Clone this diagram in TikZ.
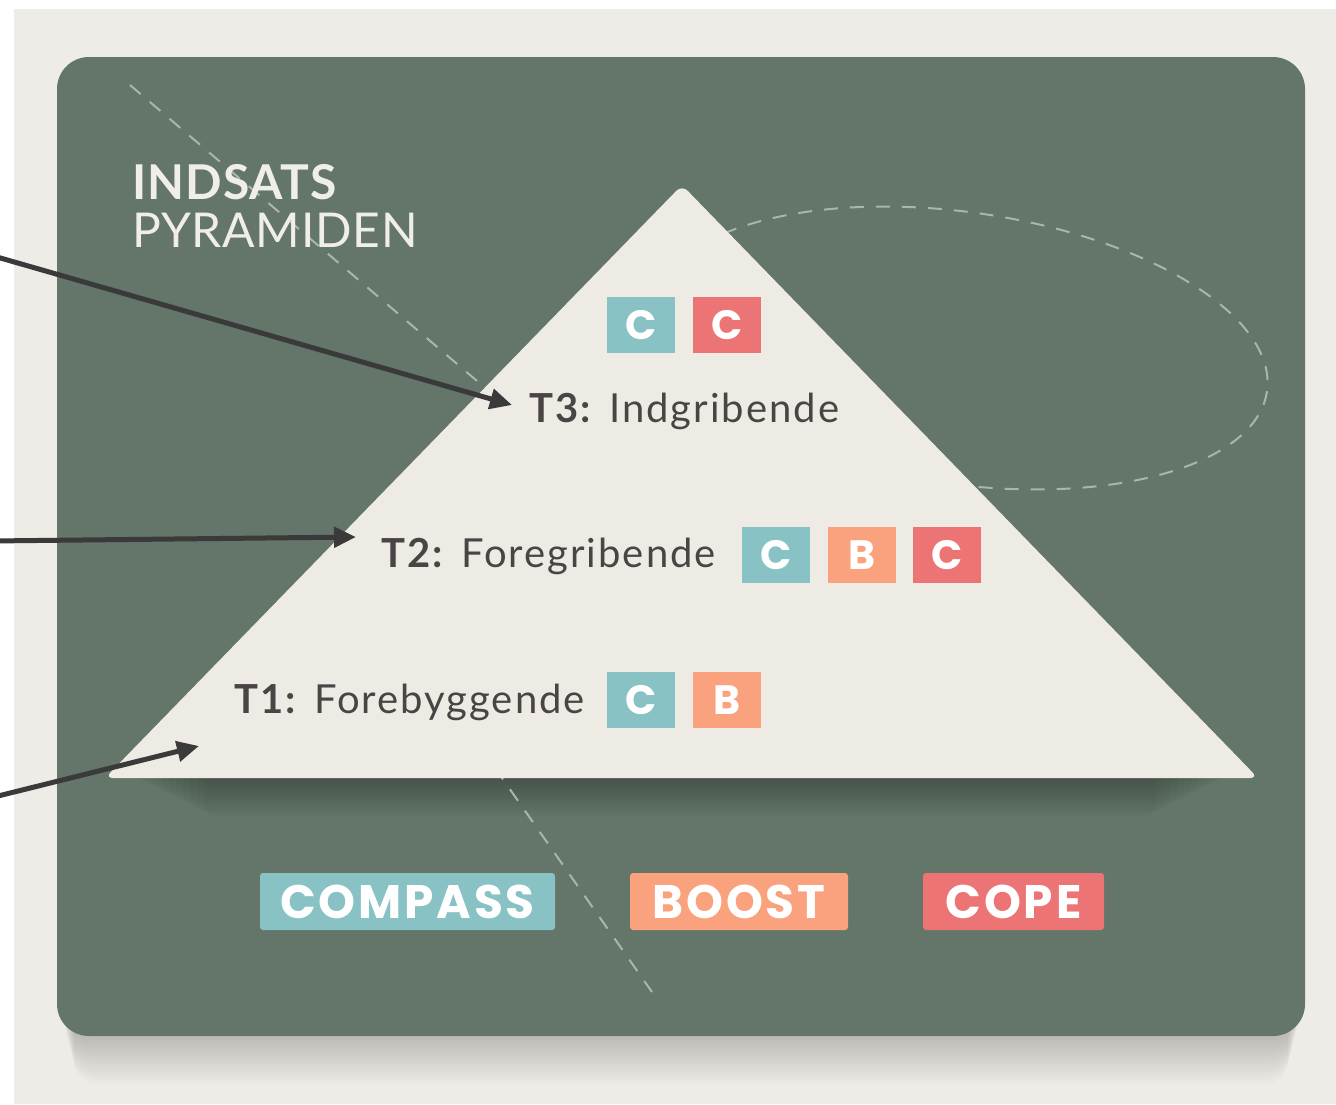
\documentclass[tikz,border=0pt]{standalone}
\usepackage{fontspec}
\setmainfont{Lato}
\newfontfamily\popfont{Poppins}
\usetikzlibrary{arrows.meta,calc}
\definecolor{bgc}{HTML}{EEECE6}
\definecolor{panelc}{HTML}{647569}
\definecolor{pyrc}{HTML}{EEEBE5}
\definecolor{dashc}{HTML}{A9B6AD}
\definecolor{tealc}{HTML}{88C2C4}
\definecolor{orangec}{HTML}{F9A27D}
\definecolor{redc}{HTML}{EC7474}
\definecolor{txtc}{HTML}{4A4545}
\definecolor{arrc}{HTML}{3A3A3A}
\definecolor{titlec}{HTML}{F0EEE8}
\begin{document}
\begin{tikzpicture}[x=0.5pt,y=-0.5pt,
 badge/.style={minimum width=34pt,minimum height=28pt,inner sep=0pt,text=white,font=\popfont\bfseries\fontsize{20.5}{20.5}\selectfont},
 tag/.style={minimum height=28.5pt,inner sep=0pt,text=white,rounded corners=1.5pt,font=\popfont\bfseries\fontsize{23.5}{23.5}\selectfont\addfontfeature{LetterSpace=6}},
 lvl/.style={anchor=base west,inner sep=0pt,text=txtc,font=\fontsize{20}{24}\selectfont\addfontfeature{LetterSpace=5}},
 ttl/.style={anchor=base west,inner sep=0pt,text=titlec,font=\fontsize{24}{28}\selectfont\addfontfeature{LetterSpace=1.5}},
 guide/.style={draw=dashc,line width=1pt,dash pattern=on 7pt off 6pt},
 pointer/.style={draw=arrc,line width=2.5pt,-{Triangle[length=11pt,width=10pt]}}
]
\useasboundingbox (0,0) rectangle (1336,1104);
\fill[white] (0,0) rectangle (1336,1104);
\fill[bgc] (14,9) rectangle (1336,1104);
% panel shadow
\foreach \k in {1,...,12}{
  \fill[black,opacity=0.017,rounded corners=12pt] (62+\k,990) rectangle (1300-\k,1036+4*\k);
}
% panel
\fill[panelc,rounded corners=16pt] (57,57) rectangle (1305,1036);
% pyramid shadow
\foreach \k in {1,...,12}{
  \fill[black,opacity=0.022,rounded corners=6pt] (120+7*\k,760) rectangle (1240-7*\k,774+3.5*\k);
}
% dashed guides
\draw[guide] (130,85) -- (490,392);
\draw[guide] (495,768) -- (652,992);
\draw[guide,rotate around={-8:(960,348)}] (960,348) ellipse [x radius=310, y radius=136];
% pyramid
\fill[pyrc,rounded corners=4pt] (682,185) -- (1258,778) -- (105,778) -- cycle;
% title
\node[ttl,font=\bfseries\fontsize{24}{28}\selectfont\addfontfeature{LetterSpace=2}] (title1) at (132,199) {INDSATS};
\node[ttl] (title2) at (132,247) {PYRAMIDEN};
% level labels
\node[lvl] (t3) at (529,422) {\textbf{T3:} Indgribende};
\node[lvl] (t2) at (381,567) {\textbf{T2:} Foregribende};
\node[lvl] (t1) at (234,713) {\textbf{T1:} Forebyggende};
% badges
\node[badge,fill=tealc] (b31) at (641,325) {C};
\node[badge,fill=redc] (b32) at (727,325) {C};
\node[badge,fill=tealc] (b21) at (776,555) {C};
\node[badge,fill=orangec] (b22) at (861.5,555) {B};
\node[badge,fill=redc] (b23) at (947,555) {C};
\node[badge,fill=tealc] (b11) at (641,700) {C};
\node[badge,fill=orangec] (b12) at (727,700) {B};
% bottom tags
\node[tag,fill=tealc,minimum width=147.5pt] (compass) at (407.5,901.5) {COMPASS};
\node[tag,fill=orangec,minimum width=109pt] (boost) at (739,901.5) {BOOST};
\node[tag,fill=redc,minimum width=90.5pt] (cope) at (1013.5,901.5) {COPE};
% arrows
\coordinate (s1) at (-10,255);
\coordinate (e1) at (512,405);
\coordinate (s2) at (-10,541);
\coordinate (e2) at (356,537);
\coordinate (s3) at (-10,798);
\coordinate (e3) at (199,746);
\draw[pointer] (s1) -- (e1);
\draw[pointer] (s2) -- (e2);
\draw[pointer] (s3) -- (e3);
\end{tikzpicture}
\end{document}
